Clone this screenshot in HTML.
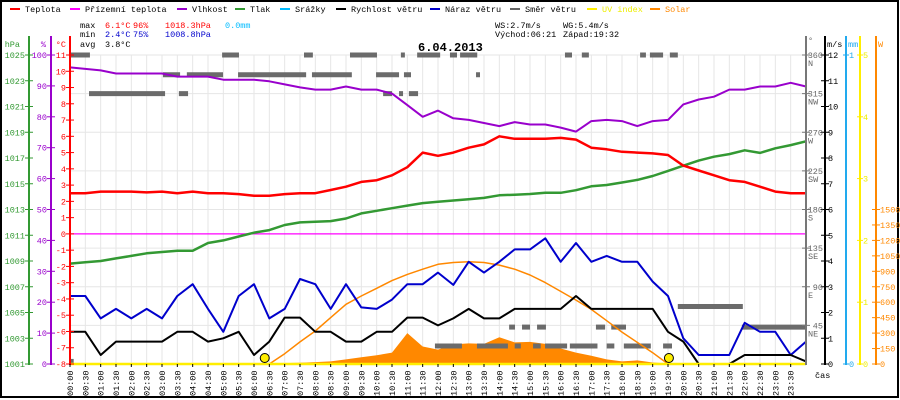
<!DOCTYPE html>
<html><head><meta charset="utf-8"><style>
html,body{margin:0;padding:0;background:#fff;}
svg{display:block;font-family:"Liberation Mono","DejaVu Sans Mono",monospace;}
</style></head><body>
<svg id="chart" width="900" height="400" viewBox="0 0 900 400" xmlns="http://www.w3.org/2000/svg"></svg>
<script>
// half-hourly data (index i => hour i/2), 00:00 .. 24:00
const temperature=[2.5,2.5,2.6,2.6,2.6,2.55,2.6,2.5,2.6,2.5,2.5,2.45,2.35,2.35,2.45,2.5,2.5,2.7,2.9,3.2,3.3,3.6,4.1,5.0,4.8,5.0,5.3,5.5,6.0,5.85,5.85,5.85,5.9,5.8,5.3,5.2,5.05,5.0,4.95,4.85,4.2,3.9,3.6,3.3,3.2,2.9,2.6,2.5,2.5];
const groundTemp=[0,0,0,0,0,0,0,0,0,0,0,0,0,0,0,0,0,0,0,0,0,0,0,0,0,0,0,0,0,0,0,0,0,0,0,0,0,0,0,0,0,0,0,0,0,0,0,0,0];
const humidity=[96,95.5,95,94,94,94,94,93,93,93,92,92,92,91.5,90.5,89.5,88.8,88.8,89.8,88.8,88.8,87.5,83.8,80,82,79.5,79,78,77,78.3,77.5,77.5,76.5,75.2,78.6,79,78.6,77,78.6,79,84,85.6,86.5,88.8,88.8,89.8,89.8,91,89.8];
const pressure=[1008.8,1008.9,1009.0,1009.2,1009.4,1009.6,1009.7,1009.8,1009.8,1010.4,1010.6,1010.9,1011.2,1011.4,1011.8,1012,1012.05,1012.1,1012.3,1012.7,1012.9,1013.1,1013.3,1013.5,1013.6,1013.7,1013.8,1013.9,1014.1,1014.15,1014.2,1014.3,1014.3,1014.5,1014.8,1014.9,1015.1,1015.3,1015.6,1016.0,1016.4,1016.8,1017.1,1017.3,1017.6,1017.4,1017.75,1018.0,1018.3];
const windSpeed=[1.25,1.25,0.35,0.87,0.87,0.87,0.87,1.25,1.25,0.87,1.0,1.25,0.35,0.87,1.8,1.8,1.25,1.25,0.87,0.87,1.25,1.25,1.8,1.8,1.5,1.77,2.14,1.77,1.77,2.14,2.14,2.14,2.14,2.64,2.14,2.14,2.14,2.14,2.14,1.25,0.87,0,0,0,0.35,0.35,0.35,0.35,0.1];
const windGust=[2.64,2.64,1.77,2.14,1.77,2.14,1.77,2.64,3.1,2.14,1.25,2.64,3.1,1.77,2.14,3.3,3.1,2.14,3.1,2.2,2.14,2.5,3.1,3.1,3.55,3.07,3.97,3.55,3.97,4.45,4.45,4.88,3.97,4.7,3.97,4.2,3.97,3.97,3.2,2.64,1.0,0.35,0.35,0.35,1.6,1.25,1.25,0.35,0.87];
const solar=[0,0,0,0,0,0,0,0,0,0,0,0,0,0,8,12,18,25,45,65,85,110,300,170,140,190,200,195,260,210,215,195,150,110,80,45,25,35,15,5,0,0,0,0,0,0,0,0,0];
const solarTheory=[null,null,null,null,null,null,null,null,null,null,null,null,null,0,100,215,320,450,580,660,735,810,870,920,968,985,993,985,960,920,864,790,705,620,530,420,310,210,110,0,null,null,null,null,null,null,null,null,null];
const uvIndex=[0,0,0,0,0,0,0,0,0,0,0,0,0,0,0,0,0,0,0,0,0,0,0,0,0,0,0,0,0,0,0,0,0,0,0,0,0,0,0,0,0,0,0,0,0,0,0,0,0];
// wind direction segments (hours) and degrees
const dirStart=[0,4.96,7.63,9.13,10.79,11.32,12.39,12.72,16.14,16.69,18.59,18.91,19.56,3.03,3.81,5.48,7.89,9.98,10.89,13.24,0.62,3.55,10.21,10.73,11.05,19.82,14.32,14.74,15.23,17.15,17.65,21.91,11.9,13.27,14.5,15.1,15.49,16.3,17.5,18.06,19.34,0];
const dirEnd=[0.65,5.51,7.92,10.01,10.92,12.07,12.62,13.28,16.37,16.92,18.78,19.34,19.82,3.59,4.99,7.70,9.19,10.73,11.12,13.37,3.10,3.85,10.50,10.86,11.35,21.94,14.51,15.0,15.52,17.45,18.13,24,12.78,14.28,14.7,15.35,16.21,17.2,17.75,18.94,19.63,0.12];
const dirDeg=[360,360,360,360,360,360,360,360,360,360,360,360,360,337,337,337,337,337,337,337,315,315,315,315,315,67,43,43,43,43,43,43,21,21,21,21,21,21,21,21,21,3];
const sunEvents=[6.35,19.53];
const tempTicks=[11,10,9,8,7,6,5,4,3,2,1,0,-1,-2,-3,-4,-5,-6,-7,-8];
const humTicks=[0,10,20,30,40,50,60,70,80,90,100];
const presTicks=[1001,1003,1005,1007,1009,1011,1013,1015,1017,1019,1021,1023,1025];
const speedTicks=[0,1,2,3,4,5,6,7,8,9,10,11,12];
const dirTicks=[0,45,90,135,180,225,270,315,360];
const dirNames=["","NE","E","SE","S","SW","W","NW","N"];
const uvTicks=[0,1,2,3,4,5];
const wTicks=[0,150,300,450,600,750,900,1050,1200,1350,1500];

const svg=document.getElementById('chart');
const NS='http://www.w3.org/2000/svg';
const X0=70,X1=806,Y0=55,Y1=364;
function xH(h){return X0+h*(X1-X0)/24;}
function yT(t){return Y0+(11-t)*(Y1-Y0)/19;}
function yHum(p){return Y1-p*(Y1-Y0)/100;}
function yP(p){return Y1-(p-1001)*(Y1-Y0)/24;}
function yS(s){return Y1-s*(Y1-Y0)/12;}
function yD(d){return Y1-d*(Y1-Y0)/360;}
function yW(w){return Y1-w*(Y1-Y0)/3000;}
function yUV(u){return Y1-u*(Y1-Y0)/5;}
function mk(tag,attrs,parent){const e=document.createElementNS(NS,tag);for(const k in attrs)e.setAttribute(k,attrs[k]);(parent||svg).appendChild(e);return e;}
function txt(x,y,s,fill,anchor,size,parent){const e=mk('text',{x:x,y:y,fill:fill,'text-anchor':anchor||'start','font-size':size||8.5},parent);e.textContent=s;return e;}

// frame
let fr=mk('rect',{x:1,y:1,width:897,height:396,fill:'none',stroke:'#000','stroke-width':2});



// grid
const grid=mk('g',{stroke:'#e6e6e6','stroke-width':1});


for(let i=1;i<48;i++){mk('line',{x1:xH(i/2),x2:xH(i/2),y1:Y0,y2:Y1},grid);}
dirTicks.forEach(d=>{mk('line',{x1:X0,x2:X1,y1:yD(d),y2:yD(d)},grid);});

// solar fill
let sp='M'+xH(0)+','+Y1;
solar.forEach((v,i)=>{sp+=' L'+xH(i/2)+','+yW(v);});
sp+=' L'+xH(24)+','+Y1+' Z';
const solarArea=mk('path',{d:sp,fill:'#ff8800',stroke:'none'});



// wind direction
const dirG=mk('g',{stroke:'#6b6b6b','stroke-width':5});


dirDeg.forEach((d,k)=>{const l=mk('line',{x1:xH(dirStart[k]),x2:xH(dirEnd[k]),y1:yD(d),y2:yD(d)},dirG);

});

function line(arr,yf,color,w,name){
  let d='';arr.forEach((v,i)=>{if(v===null)return;d+=(d===''?'M':' L')+xH(i/2).toFixed(1)+','+yf(v).toFixed(1);});
  const p=mk('path',{d:d,fill:'none',stroke:color,'stroke-width':w,'stroke-linejoin':'round'});
  
  
  return p;
}
line(groundTemp,yT,'#ff00ff',1.2,'ground-temperature-line');
line(solarTheory,yW,'#ff8800',1.5,'solar-theoretical-line');
line(pressure,yP,'#339933',2.5,'pressure-line');
line(humidity,yHum,'#9900cc',2,'humidity-line');
line(temperature,yT,'#ff0000',2.5,'temperature-line');
line(windGust,yS,'#0000cc',2,'wind-gust-line');
line(windSpeed,yS,'#000000',2,'wind-speed-line');
line(uvIndex,yUV,'#ffee00',2.5,'uv-index-line');

sunEvents.forEach((h,k)=>{const c=mk('circle',{cx:xH(h),cy:358,r:4.5,fill:'#ffee00',stroke:'#000','stroke-width':1});

});

// axes
function vaxis(x,color,name){const l=mk('line',{x1:x,x2:x,y1:36,y2:Y1+1,stroke:color,'stroke-width':2});

}
vaxis(29,'#339933','pressure-axis');
vaxis(51,'#9900cc','humidity-axis');
vaxis(70,'#ff0000','temperature-axis');
vaxis(806,'#777777','direction-axis');
vaxis(825,'#000000','speed-axis');
vaxis(846,'#22aaee','rain-axis');
vaxis(860,'#ffee00','uv-axis');
vaxis(876,'#ff8800','solar-axis');

const axG=mk('g',{});


tempTicks.forEach(t=>{mk('line',{x1:66,x2:74,y1:yT(t),y2:yT(t),stroke:'#f00'},axG);txt(66,yT(t)+3,String(t),'#f00','end',8.5,axG);});
humTicks.forEach(t=>{mk('line',{x1:47,x2:55,y1:yHum(t),y2:yHum(t),stroke:'#90c'},axG);txt(47,yHum(t)+3,String(t),'#90c','end',8.5,axG);});
presTicks.forEach(t=>{mk('line',{x1:25,x2:33,y1:yP(t),y2:yP(t),stroke:'#393'},axG);txt(25,yP(t)+3,String(t),'#393','end',8.5,axG);});
speedTicks.forEach(t=>{mk('line',{x1:821,x2:829,y1:yS(t),y2:yS(t),stroke:'#000'},axG);txt(828,yS(t)+3,String(t),'#000','start',8.5,axG);});
dirTicks.forEach((t,k)=>{if(t===0)return;mk('line',{x1:802,x2:810,y1:yD(t),y2:yD(t),stroke:'#777'},axG);txt(823,yD(t)+3,String(t),'#666','end',8.5,axG);txt(808,yD(t)+11,dirNames[k],'#666','start',8.5,axG);});
[0,1].forEach(t=>{const y=Y1-t*(Y1-Y0);mk('line',{x1:843,x2:849,y1:y,y2:y,stroke:'#2ae'},axG);txt(849,y+3,String(t),'#2ae','start',8.5,axG);});
uvTicks.forEach(t=>{mk('line',{x1:857,x2:863,y1:yUV(t),y2:yUV(t),stroke:'#fe0'},axG);txt(863,yUV(t)+3,String(t),'#ee0','start',8.5,axG);});
wTicks.forEach(t=>{mk('line',{x1:872,x2:880,y1:yW(t),y2:yW(t),stroke:'#f80'},axG);txt(880,yW(t)+3,String(t),'#f80','start',8.5,axG);});
txt(20,47,'hPa','#393','end',8.5,axG);
txt(46,47,'%','#90c','end',8.5,axG);
txt(66,47,'°C','#f00','end',8.5,axG);
txt(808,43,'°','#666','start',8.5,axG);
txt(827,47,'m/s','#000','start',8.5,axG);
txt(848,47,'mm','#2ae','start',8.5,axG);
txt(878,47,'W','#f80','start',8.5,axG);
txt(815,378,'čas','#000','start',8.5,axG);

// x labels
const xl=mk('g',{});


for(let i=0;i<48;i++){const x=xH(i/2);mk('line',{x1:x,x2:x,y1:Y1,y2:Y1+3,stroke:'#000'},xl);
const s=String(Math.floor(i/2)).padStart(2,'0')+':'+(i%2?'30':'00');
const t=mk('text',{x:0,y:0,fill:'#000','font-size':8.5,'text-anchor':'start',transform:'translate('+(x+3)+',396) rotate(-90)'},xl);t.textContent=s;}

// legend
const legendItems=["Teplota","Přízemní teplota","Vlhkost","Tlak","Srážky","Rychlost větru","Náraz větru","Směr větru","UV index","Solar"];
const legendColors=["#f00","#f0f","#90c","#393","#0bf","#000","#00c","#666","#fe0","#f80"];
const legendX=[10,70,177,235,280,336,430,510,587,650];
legendItems.forEach((n,k)=>{const g=mk('g',{});


mk('line',{x1:legendX[k],x2:legendX[k]+10,y1:9,y2:9,stroke:legendColors[k],'stroke-width':2},g);
txt(legendX[k]+15,12,n,k===8?'#ee0':(k===9?'#f80':'#000'),'start',8.5,g);});

// stats
const st=mk('g',{});


txt(80,28,'max','#000','start',8.5,st);txt(105,28,'6.1°C','#f00','start',8.5,st);txt(133,28,'96%','#f00','start',8.5,st);txt(165,28,'1018.3hPa','#f00','start',8.5,st);txt(225,28,'0.0mm','#0bf','start',8.5,st);
txt(80,37,'min','#000','start',8.5,st);txt(105,37,'2.4°C','#00c','start',8.5,st);txt(133,37,'75%','#00c','start',8.5,st);txt(165,37,'1008.8hPa','#00c','start',8.5,st);
txt(80,47,'avg','#000','start',8.5,st);txt(105,47,'3.8°C','#000','start',8.5,st);
txt(495,28,'WS:2.7m/s','#000','start',8.5,st);txt(563,28,'WG:5.4m/s','#000','start',8.5,st);
txt(495,37,'Východ:06:21','#000','start',8.5,st);txt(563,37,'Západ:19:32','#000','start',8.5,st);
const ti=txt(418,51,'6.04.2013','#000','start',12,svg);
ti.setAttribute('font-weight','bold');


</script>
</body></html>
